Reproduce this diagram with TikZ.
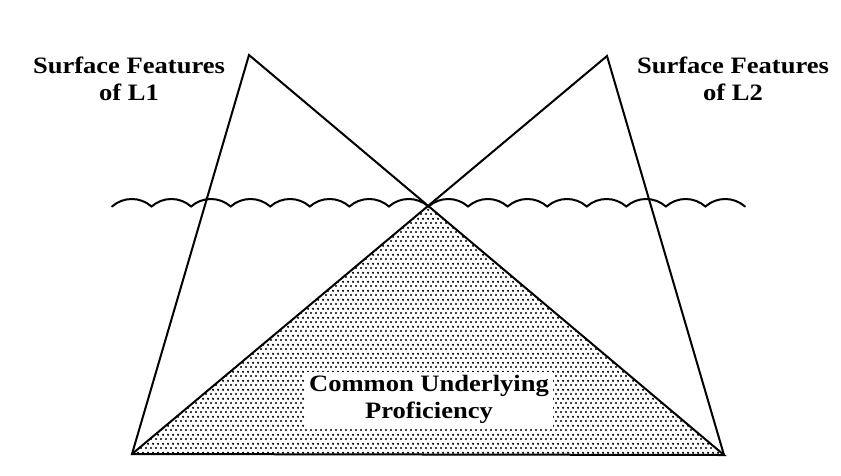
\documentclass[tikz,border=0pt]{standalone}
\usepackage{fontspec}
\setmainfont{Liberation Serif}[FakeStretch=1.13]
\usetikzlibrary{patterns}
\pgfdeclarepatternformonly{halftone}{\pgfpointorigin}{\pgfpoint{4.5pt}{8.6pt}}{\pgfpoint{4.5pt}{8.6pt}}{%
  \pgfpathcircle{\pgfpoint{1.125pt}{1.075pt}}{1.25pt}%
  \pgfpathcircle{\pgfpoint{3.375pt}{5.375pt}}{1.25pt}%
  \pgfusepath{fill}%
}
\begin{document}
\begin{tikzpicture}[x=1pt,y=-1pt,
  edge/.style={line width=2pt, line join=miter},
  wave/.style={line width=2pt, line cap=round},
  lab/.style={font=\fontsize{23.5}{27}\selectfont\bfseries, align=center, inner sep=0pt}]
\useasboundingbox[fill=white] (0,0) rectangle (841,475);
\coordinate (A) at (132,454);
\coordinate (B) at (724,455);
\coordinate (P1) at (249,55);
\coordinate (P2) at (607,56);
\coordinate (X) at (intersection of P1--B and P2--A);
\fill[pattern=halftone] (A) -- (X) -- (B) -- cycle;
\node[lab, fill=white, minimum width=248pt, minimum height=55pt] (cup) at (429,399.5) {Common Underlying\\Proficiency};
\draw[edge] (A) -- (P1) -- (B) -- cycle;
\draw[edge] (A) -- (P2) -- (B);
\coordinate (W0) at (112,206.5);
\draw[wave] (W0) \foreach \i in {1,...,16}{ .. controls +(11.3,-10) and +(-11.3,-10) .. ++(39.5625,0)};
\node[lab] (s1) at (129,78.5) {Surface Features\\of L1};
\node[lab] (s2) at (733,79) {Surface Features\\of L2};
\end{tikzpicture}
\end{document}
